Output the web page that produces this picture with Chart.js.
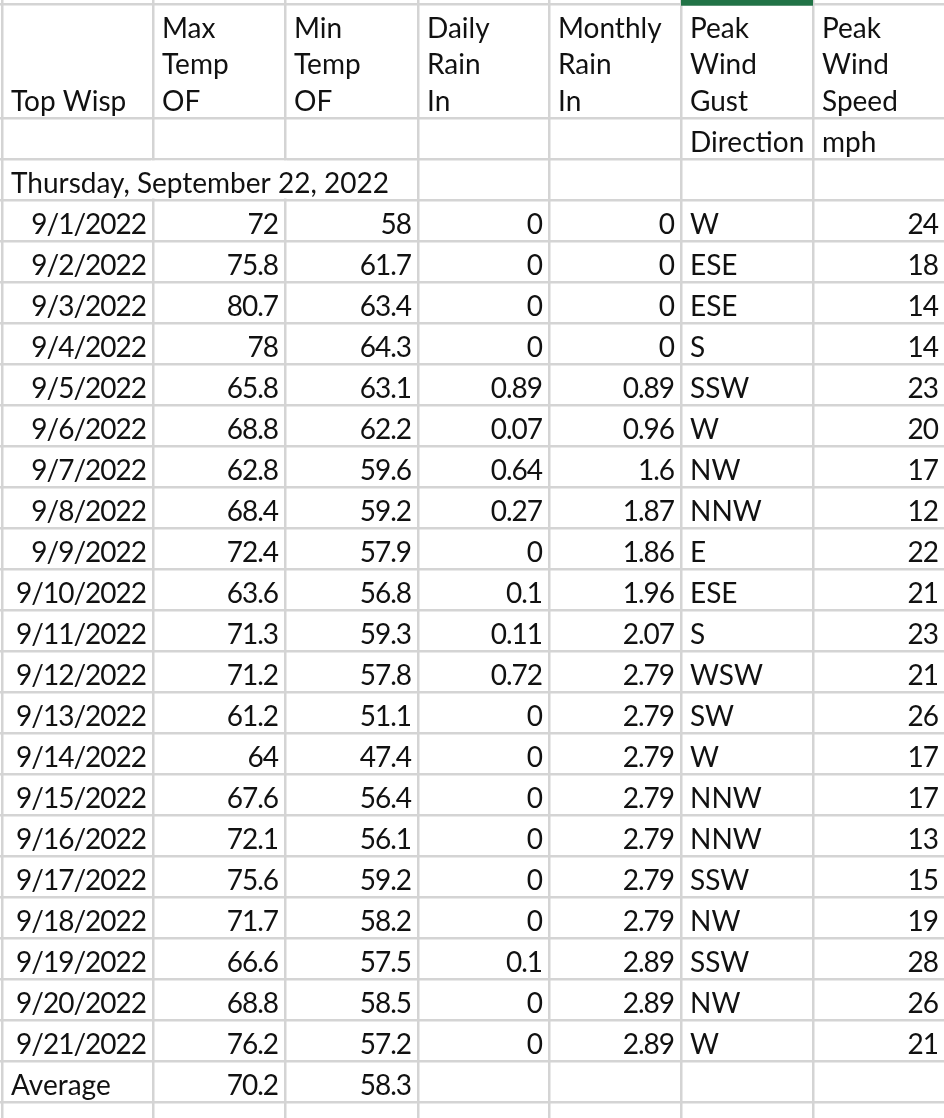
<!DOCTYPE html>
<html>
<head>
<meta charset="utf-8">
<title>Top Wisp - September 2022</title>
<script src="https://cdn.jsdelivr.net/npm/chart.js@4.4.0/dist/chart.umd.min.js"></script>
<style>
    html, body { margin: 0; padding: 0; background: #ffffff; }
    #sheet { display: block; }
</style>
</head>
<body>
<canvas id="sheet" width="944" height="1118"></canvas>
<script>
// Sheet title cells
const stationName = 'Top Wisp';
const reportDate = 'Thursday, September 22, 2022';
const averageLabel = 'Average';

// Column headings, one array of wrapped lines per column
const headerLines = [
    [stationName],
    ['Max', 'Temp', 'OF'],
    ['Min', 'Temp', 'OF'],
    ['Daily', 'Rain', 'In'],
    ['Monthly', 'Rain', 'In'],
    ['Peak', 'Wind', 'Gust'],
    ['Peak', 'Wind', 'Speed']
];
// Second header row (only the two wind columns use it)
const subHeaders = ['', '', '', '', '', 'Direction', 'mph'];

// Daily readings
const dates = ['9/1/2022', '9/2/2022', '9/3/2022', '9/4/2022', '9/5/2022', '9/6/2022', '9/7/2022',
    '9/8/2022', '9/9/2022', '9/10/2022', '9/11/2022', '9/12/2022', '9/13/2022', '9/14/2022',
    '9/15/2022', '9/16/2022', '9/17/2022', '9/18/2022', '9/19/2022', '9/20/2022', '9/21/2022'];
const maxTemp = [72, 75.8, 80.7, 78, 65.8, 68.8, 62.8, 68.4, 72.4, 63.6, 71.3, 71.2, 61.2, 64, 67.6, 72.1, 75.6, 71.7, 66.6, 68.8, 76.2];
const minTemp = [58, 61.7, 63.4, 64.3, 63.1, 62.2, 59.6, 59.2, 57.9, 56.8, 59.3, 57.8, 51.1, 47.4, 56.4, 56.1, 59.2, 58.2, 57.5, 58.5, 57.2];
const dailyRain = [0, 0, 0, 0, 0.89, 0.07, 0.64, 0.27, 0, 0.1, 0.11, 0.72, 0, 0, 0, 0, 0, 0, 0.1, 0, 0];
const monthlyRain = [0, 0, 0, 0, 0.89, 0.96, 1.6, 1.87, 1.86, 1.96, 2.07, 2.79, 2.79, 2.79, 2.79, 2.79, 2.79, 2.79, 2.89, 2.89, 2.89];
const gustDirection = ['W', 'ESE', 'ESE', 'S', 'SSW', 'W', 'NW', 'NNW', 'E', 'ESE', 'S', 'WSW', 'SW', 'W', 'NNW', 'NNW', 'SSW', 'NW', 'SSW', 'NW', 'W'];
const windSpeed = [24, 18, 14, 14, 23, 20, 17, 12, 22, 21, 23, 21, 26, 17, 17, 13, 15, 19, 28, 26, 21];

// Averages row
const maxTempAverage = 70.2;
const minTempAverage = 58.3;

// Layout of the sheet (in scale units, which match the canvas here)
const COL_WIDTHS = [151, 132, 133, 131, 132, 132, 132];
const SHEET_LEFT = 2;
const SHEET_TOP = 4;
const HEADER_HEIGHT = 114;
const ROW_HEIGHT = 41;
const LINE_HEIGHT = 36.5;
const PAD_LEFT = 9;
const PAD_RIGHT = 7;
const TEXT_DROP = 7.5;
const SELECTED_COL = 5;

const FONT = '28px Lato, "Open Sans", sans-serif';
const GRID_COLOR = '#d4d4d4';
const TEXT_COLOR = '#111111';

// Column edges from the widths
const colEdges = [SHEET_LEFT];
COL_WIDTHS.forEach(w => colEdges.push(colEdges[colEdges.length - 1] + w));

// Row edges: header, sub header, date row, daily rows, average row, one empty row
const rowEdges = [SHEET_TOP, SHEET_TOP + HEADER_HEIGHT];
const rowCount = 2 + dates.length + 2;
for (let i = 0; i < rowCount; i++) {
    rowEdges.push(rowEdges[rowEdges.length - 1] + ROW_HEIGHT);
}

// Draw one text cell: col index, row bottom edge, text, alignment
// Right aligned cells hold numbers and dates; Lato digits run wide, so tighten them a bit
function drawCell(chart, col, rowBottom, text, align) {
    const { ctx, scales: { x, y } } = chart;
    const left = x.getPixelForValue(colEdges[col]);
    const right = x.getPixelForValue(colEdges[col + 1]);
    const base = y.getPixelForValue(rowBottom - TEXT_DROP);
    ctx.textAlign = align;
    ctx.letterSpacing = align === 'right' ? '-1px' : '0px';
    ctx.fillText(String(text), align === 'right' ? right - PAD_RIGHT : left + PAD_LEFT, base);
}

// Plugin that paints the cell contents on top of the grid
const sheetCells = {
    id: 'sheetCells',
    afterDraw(chart) {
        const { ctx, scales: { x, y } } = chart;
        ctx.save();

        // Selected column marker at the top
        ctx.fillStyle = '#217346';
        const selLeft = x.getPixelForValue(colEdges[SELECTED_COL]);
        const selRight = x.getPixelForValue(colEdges[SELECTED_COL + 1]);
        ctx.fillRect(selLeft, y.getPixelForValue(0), selRight - selLeft, y.getPixelForValue(SHEET_TOP + 1.7) - y.getPixelForValue(0));

        // Date text spills over columns B and C, so hide those gridlines
        const dateTop = y.getPixelForValue(rowEdges[2]) + 1.5;
        const dateBottom = y.getPixelForValue(rowEdges[3]) - 1.5;
        const spillLeft = x.getPixelForValue(colEdges[1]) - 2;
        const spillRight = x.getPixelForValue(colEdges[2]) + 2;
        ctx.fillStyle = '#ffffff';
        ctx.fillRect(spillLeft, dateTop, spillRight - spillLeft, dateBottom - dateTop);

        ctx.font = FONT;
        ctx.fillStyle = TEXT_COLOR;
        ctx.textBaseline = 'alphabetic';

        // Wrapped headers, bottom aligned
        headerLines.forEach((lines, col) => {
            lines.forEach((line, i) => {
                const fromBottom = lines.length - 1 - i;
                drawCell(chart, col, rowEdges[1] - fromBottom * LINE_HEIGHT, line, 'left');
            });
            if (subHeaders[col]) {
                drawCell(chart, col, rowEdges[2], subHeaders[col], 'left');
            }
        });

        // Report date
        drawCell(chart, 0, rowEdges[3], reportDate, 'left');

        // Daily rows
        dates.forEach((date, i) => {
            const bottom = rowEdges[4 + i];
            drawCell(chart, 0, bottom, date, 'right');
            drawCell(chart, 1, bottom, maxTemp[i], 'right');
            drawCell(chart, 2, bottom, minTemp[i], 'right');
            drawCell(chart, 3, bottom, dailyRain[i], 'right');
            drawCell(chart, 4, bottom, monthlyRain[i], 'right');
            drawCell(chart, 5, bottom, gustDirection[i], 'left');
            drawCell(chart, 6, bottom, windSpeed[i], 'right');
        });

        // Average row
        const avgBottom = rowEdges[4 + dates.length];
        drawCell(chart, 0, avgBottom, averageLabel, 'left');
        drawCell(chart, 1, avgBottom, maxTempAverage, 'right');
        drawCell(chart, 2, avgBottom, minTempAverage, 'right');

        ctx.restore();
    }
};

// Scale options shared by both axes: gridlines only, at the cell edges
function gridScale(max, edges, reverse) {
    return {
        type: 'linear',
        min: 0,
        max,
        reverse,
        afterBuildTicks: scale => {
            scale.ticks = edges.filter(v => v >= 0 && v <= max).map(v => ({ value: v }));
        },
        ticks: { display: false },
        border: { display: false },
        grid: { color: GRID_COLOR, lineWidth: 2.5, drawTicks: false }
    };
}

const ctx = document.getElementById('sheet').getContext('2d');
const sheetChart = new Chart(ctx, {
    type: 'scatter',
    data: { datasets: [] },
    options: {
        responsive: false,
        animation: false,
        layout: { padding: 0 },
        plugins: { legend: { display: false }, tooltip: { enabled: false } },
        scales: {
            x: gridScale(944, colEdges, false),
            y: gridScale(1118, rowEdges, true)
        }
    },
    plugins: [sheetCells]
});
</script>
</body>
</html>
